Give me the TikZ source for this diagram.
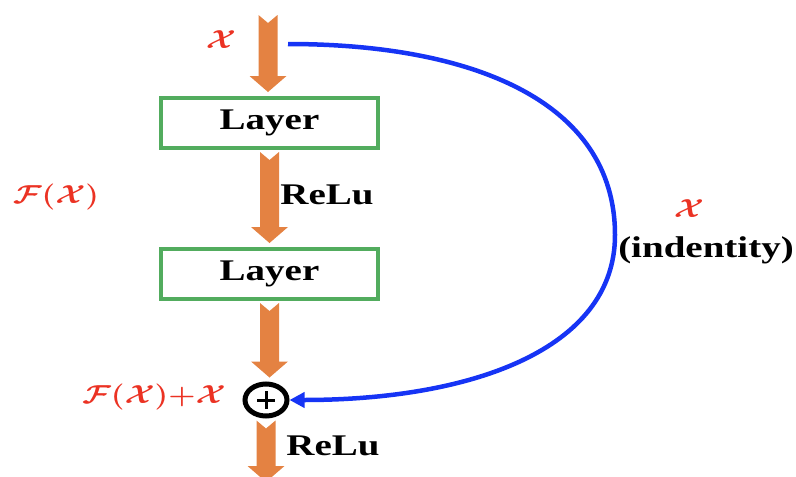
\RequirePackage{fix-cm}
\documentclass[tikz,border=0pt]{standalone}
\usepackage{fontspec}
\setmainfont[FakeStretch=1.3]{Liberation Serif}
\usepackage{graphicx}
\usetikzlibrary{calc,arrows.meta,shapes.geometric}
\definecolor{flowor}{RGB}{228,130,66}
\definecolor{layergreen}{RGB}{82,172,94}
\definecolor{skipblue}{RGB}{22,52,245}
\definecolor{lblred}{RGB}{235,50,35}
% fat orange arrow with a notched tail, from #1 down to #2
\newcommand{\fatarrow}[2]{%
  \fill[flowor] let \p1=(#1), \p2=(#2) in
    (\x1-9.5pt,\y1-2pt) -- (\x1,\y1-10pt) -- (\x1+9.5pt,\y1-2pt)
    -- (\x1+9.5pt,\y2+20pt) -- (\x1+18.5pt,\y2+20pt) -- (\x1,\y2+4pt)
    -- (\x1-18.5pt,\y2+20pt) -- (\x1-9.5pt,\y2+20pt) -- cycle;}
\newcommand{\wide}[1]{\scalebox{1.2}[1]{$#1$}}
\tikzset{
  layerbox/.style={draw=layergreen,line width=4pt,minimum width=217pt,minimum height=50pt,inner sep=0pt,font=\fontsize{30}{36}\selectfont\bfseries},
  bold/.style={font=\fontsize{30}{36}\selectfont\bfseries},
  mathlbl/.style={text=lblred,font=\fontsize{26}{30}\selectfont\boldmath,inner sep=0pt},
  skip/.style={draw=skipblue,line width=4.5pt,-{Triangle[length=15pt,width=15pt]}}
}
\begin{document}
\begin{tikzpicture}[x=1pt,y=-1pt]
\useasboundingbox (0,0) rectangle (796,477);
\coordinate (in) at (268,13);
\coordinate (out) at (266,486);
\coordinate (src) at (288,44);
\node[layerbox] (l1) at (269.5,123) {Layer};
\node[layerbox] (l2) at (269.5,274) {Layer};
\node[ellipse,draw,line width=5pt,minimum width=42pt,minimum height=32pt,inner sep=0pt] (sum) at (266,400) {};
\draw[line width=3pt] ([xshift=-9pt]sum.center)--([xshift=9pt]sum.center);
\draw[line width=3pt] ([yshift=-9pt]sum.center)--([yshift=9pt]sum.center);
\fatarrow{in}{l1.north}
\fatarrow{l1.south}{l2.north}
\fatarrow{l2.south}{sum.north}
\fatarrow{sum.south}{out}
\draw[skip] (src) .. controls (470,44) and (615,100) .. (615,235) .. controls (615,350) and (470,400) .. (sum.east);
\node[bold] (relu1) at (327,195) {ReLu};
\node[bold] (relu2) at (333,446) {ReLu};
\node[bold] (ident) at (706,250) {(indentity)};
\node[mathlbl] (xin) at (221,40) {\wide{\mathcal{X}}};
\node[mathlbl] (fx) at (56,197) {\wide{\mathcal{F}(\mathcal{X})}};
\node[mathlbl] (fxx) at (154,397) {\wide{\mathcal{F}(\mathcal{X}){+}\mathcal{X}}};
\node[mathlbl] (xid) at (689,209) {\wide{\mathcal{X}}};
\end{tikzpicture}
\end{document}
